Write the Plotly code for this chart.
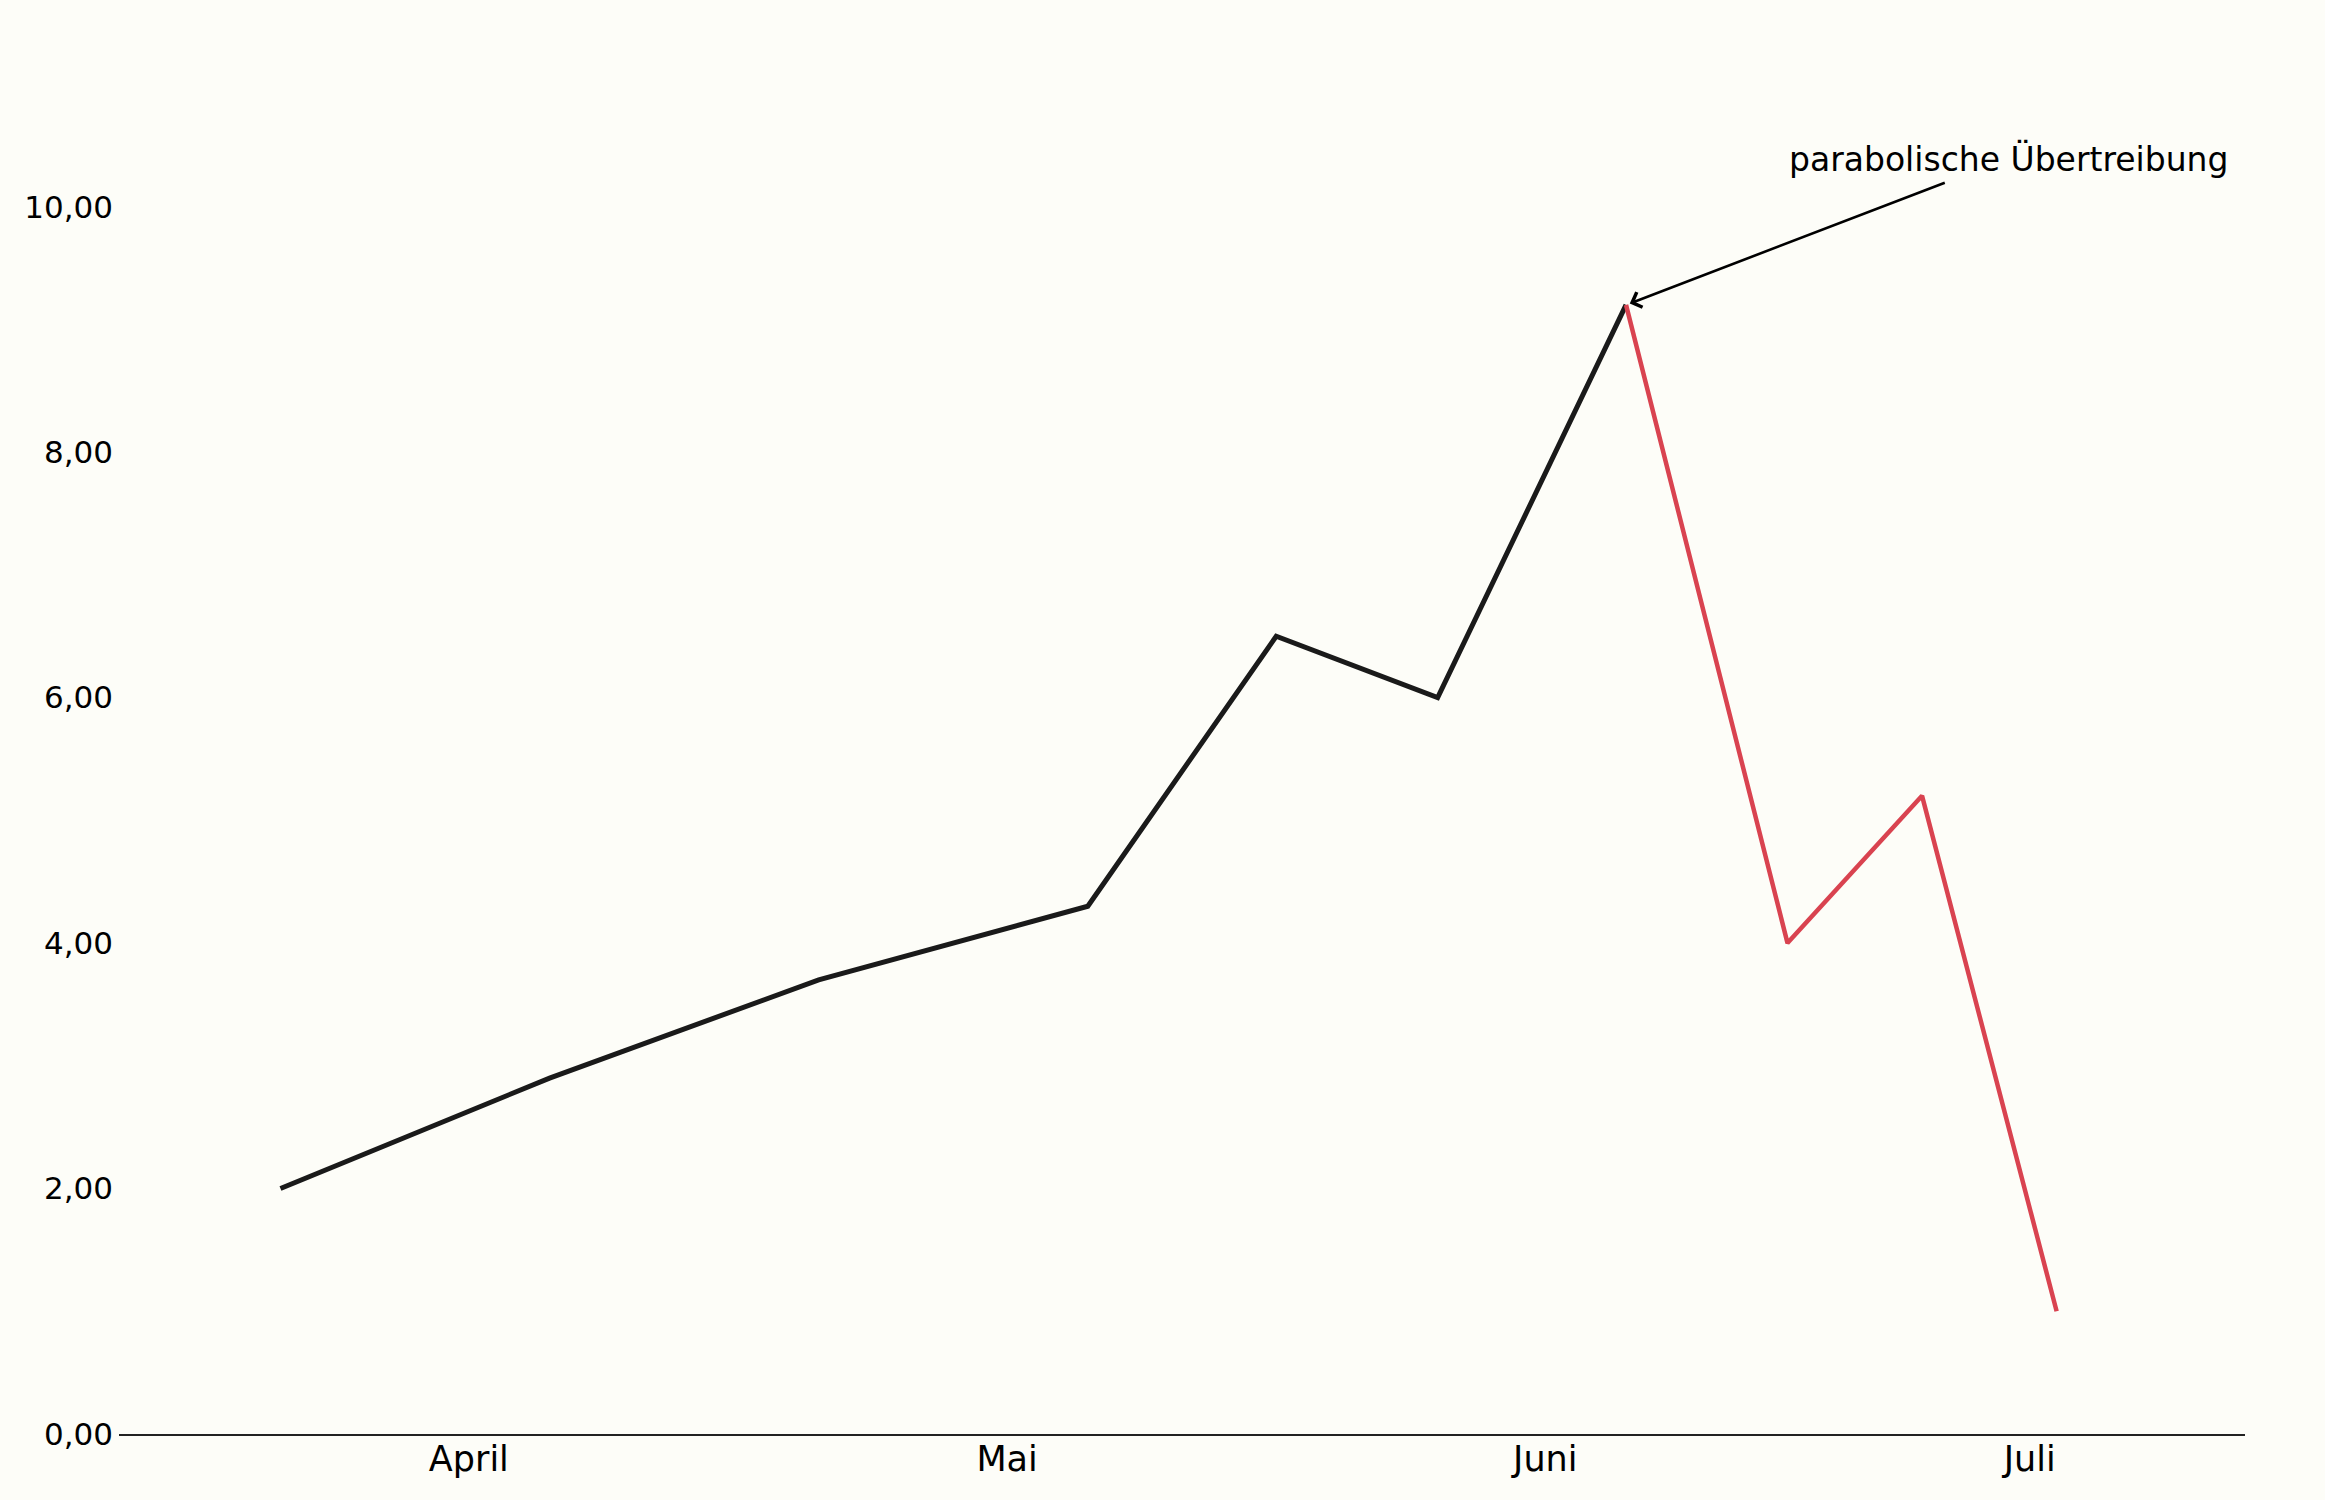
import plotly.graph_objects as go

# Data
x_pos = [0, 10, 20, 30, 37, 43, 50, 56, 61, 66]
values = [2.0, 2.9, 3.7, 4.3, 6.5, 6.0, 9.2, 4.0, 5.2, 1.0]
peak_index = 6
tick_pos = [7, 27, 47, 65]
tick_labels = ["April", "Mai", "Juni", "Juli"]
y_ticks = [0, 2, 4, 6, 8, 10]
annotation_text = "parabolische Übertreibung"

BG = "#fdfdf8"
BLACK = "#1a1a1a"
RED = "#d94350"
FONT = "DejaVu Sans"

fig = go.Figure()
fig.add_trace(go.Scatter(
    x=x_pos[:peak_index + 1], y=values[:peak_index + 1],
    mode="lines", line=dict(color=BLACK, width=5), showlegend=False,
))
fig.add_trace(go.Scatter(
    x=x_pos[peak_index:], y=values[peak_index:],
    mode="lines", line=dict(color=RED, width=4.5), showlegend=False,
))

# arrow (no text)
fig.add_annotation(
    x=x_pos[peak_index], y=values[peak_index],
    ax=61.9, ay=10.2, axref="x", ayref="y", xref="x", yref="y",
    text="", showarrow=True, arrowhead=4, arrowsize=1.2, arrowwidth=2.6,
    arrowcolor="#000000", standoff=4,
)
# text
fig.add_annotation(
    x=64.2, y=10.39, xref="x", yref="y", text=annotation_text,
    showarrow=False, xanchor="center", yanchor="middle",
    font=dict(family=FONT, size=33, color="#000000"),
)

fig.update_layout(
    width=2325, height=1500,
    paper_bgcolor=BG, plot_bgcolor=BG,
    margin=dict(l=119, r=80, t=84, b=66),
    separators=",.",
    font=dict(family=FONT, color="#000000"),
    xaxis=dict(
        range=[-6, 73], tickvals=tick_pos, ticktext=tick_labels,
        showgrid=False, zeroline=False, showline=True, linecolor="#222222",
        linewidth=2, ticks="", ticklabelstandoff=-7,
        tickfont=dict(family=FONT, size=35, color="#000000"),
    ),
    yaxis=dict(
        range=[0, 11], tickvals=y_ticks, tickformat=".2f",
        showgrid=False, zeroline=False, showline=False, ticks="",
        ticklabelstandoff=5,
        tickfont=dict(family=FONT, size=31, color="#000000"),
    ),
)

fig.write_html(
    "out.html",
    config={"displayModeBar": False},
    post_script="document.body.style.margin='0';document.body.style.background='%s';" % BG,
)
